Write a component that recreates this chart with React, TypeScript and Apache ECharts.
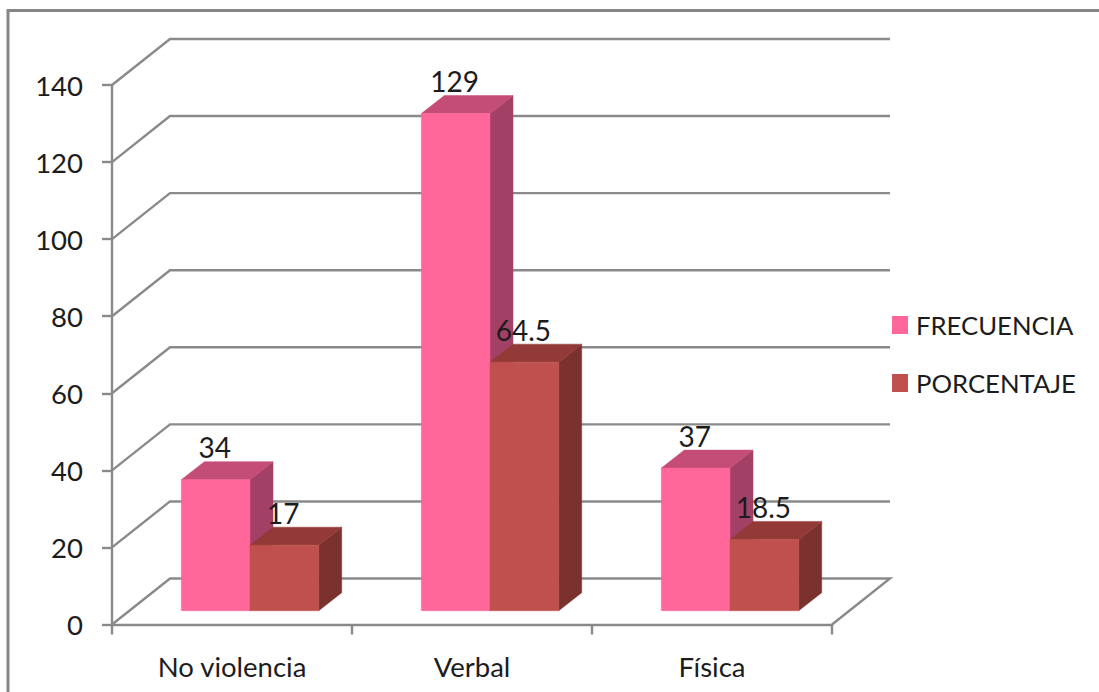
import React, { useEffect, useRef } from "react";
import * as echarts from "echarts";

const categories = ["No violencia", "Verbal", "Física"];
const frecuencia = [34, 129, 37];
const porcentaje = [17, 64.5, 18.5];
const wallTicks = [0, 20, 40, 60, 80, 100, 120, 140];

const FONT = "Lato, Carlito, sans-serif";
const TEXT = "#1c1c1c";
const LINE = "#8a8a8a";

const WALL_DX = 58;
const WALL_DY = -46;
const BASE_DX = 18;
const BASE_DY = -13.8;
const BAR_RATIO = 0.2862;
const DEPTH_X = 23;
const DEPTH_Y = -18;

const makeBarRender = (slot: number, front: string, top: string, side: string) => (_p: any, api: any) => {
  const i = api.value(0);
  const v = api.value(1);
  const zero = api.coord([i, 0]);
  const val = api.coord([i, v]);
  const w = api.size([1, 0])[0] * BAR_RATIO;
  const x0 = zero[0] + BASE_DX + slot * w;
  const x1 = x0 + w;
  const yb = zero[1] + BASE_DY;
  const yt = val[1] + BASE_DY;
  const poly = (points: number[][], fill: string) => ({
    type: "polygon",
    shape: { points },
    style: { fill, stroke: fill, lineWidth: 0.5 },
  });
  return {
    type: "group",
    children: [
      poly([[x1, yb], [x1, yt], [x1 + DEPTH_X, yt + DEPTH_Y], [x1 + DEPTH_X, yb + DEPTH_Y]], side),
      poly([[x0, yt], [x1, yt], [x1 + DEPTH_X, yt + DEPTH_Y], [x0 + DEPTH_X, yt + DEPTH_Y]], top),
      poly([[x0, yb], [x1, yb], [x1, yt], [x0, yt]], front),
      {
        type: "text",
        x: (x0 + x1) / 2 - 1,
        y: yt - 32.5,
        style: {
          text: String(v),
          fontFamily: FONT,
          fontSize: 28,
          fill: TEXT,
          align: "center",
          verticalAlign: "middle",
        },
      },
    ],
  };
};

const renderWall = (params: any, api: any) => {
  const v = api.value(0);
  const p = api.coord([0, v]);
  const left = params.coordSys.x;
  const right = left + params.coordSys.width;
  const points = [
    [left, p[1]],
    [left + WALL_DX, p[1] + WALL_DY],
    [right + WALL_DX, p[1] + WALL_DY],
  ];
  if (v === 0) points.push([right, p[1]]);
  return {
    type: "polyline",
    shape: { points },
    style: { fill: "none", stroke: LINE, lineWidth: 2.4 },
  };
};

export default function App() {
  const ref = useRef<HTMLDivElement>(null);
  useEffect(() => {
    const chart = echarts.init(ref.current!, null, { renderer: "svg" });
    chart.setOption({
      animation: false,
      backgroundColor: "#ffffff",
      graphic: [
        {
          type: "polyline",
          shape: { points: [[8, 692], [8, 10.5], [1099, 10.5]] },
          style: { fill: "none", stroke: "#868686", lineWidth: 3 },
        },
      ],
      grid: { left: 112, right: 267, top: 85, bottom: 67.5 },
      legend: {
        orient: "vertical",
        left: 892,
        top: 312,
        itemWidth: 16,
        itemHeight: 18,
        itemGap: 32,
        icon: "rect",
        padding: 0,
        selectedMode: false,
        data: ["FRECUENCIA", "PORCENTAJE"],
        textStyle: { fontFamily: FONT, fontSize: 25.7, color: TEXT, padding: [0, 0, 0, 3] },
      },
      xAxis: {
        type: "category",
        data: categories,
        axisLine: { lineStyle: { color: LINE, width: 2.4 } },
        axisTick: { show: true, length: 10, lineStyle: { color: LINE, width: 2.4 } },
        axisLabel: { fontFamily: FONT, fontSize: 27.5, color: TEXT, margin: 28 },
        splitLine: { show: false },
      },
      yAxis: {
        type: "value",
        min: 0,
        max: 140,
        interval: 20,
        axisLine: { show: true, lineStyle: { color: LINE, width: 2.4 } },
        axisTick: { show: true, length: 10, lineStyle: { color: LINE, width: 2.4 } },
        axisLabel: { fontFamily: FONT, fontSize: 27.5, color: TEXT, margin: 29 },
        splitLine: { show: false },
      },
      series: [
        {
          type: "custom",
          name: "wall",
          silent: true,
          data: wallTicks.map((t) => [t]),
          encode: { y: 0 },
          renderItem: renderWall,
        },
        {
          type: "custom",
          name: "FRECUENCIA",
          itemStyle: { color: "#FF6699" },
          data: frecuencia.map((v, i) => [i, v]),
          encode: { x: 0, y: 1 },
          renderItem: makeBarRender(-1, "#FF6699", "#C44D78", "#A34066"),
        },
        {
          type: "custom",
          name: "PORCENTAJE",
          itemStyle: { color: "#C0504D" },
          data: porcentaje.map((v, i) => [i, v]),
          encode: { x: 0, y: 1 },
          renderItem: makeBarRender(0, "#C0504D", "#933A38", "#7B322F"),
        },
      ],
    });
    return () => chart.dispose();
  }, []);
  return <div ref={ref} style={{ position: "absolute", left: 0, top: 0, width: 1099, height: 692 }} />;
}
